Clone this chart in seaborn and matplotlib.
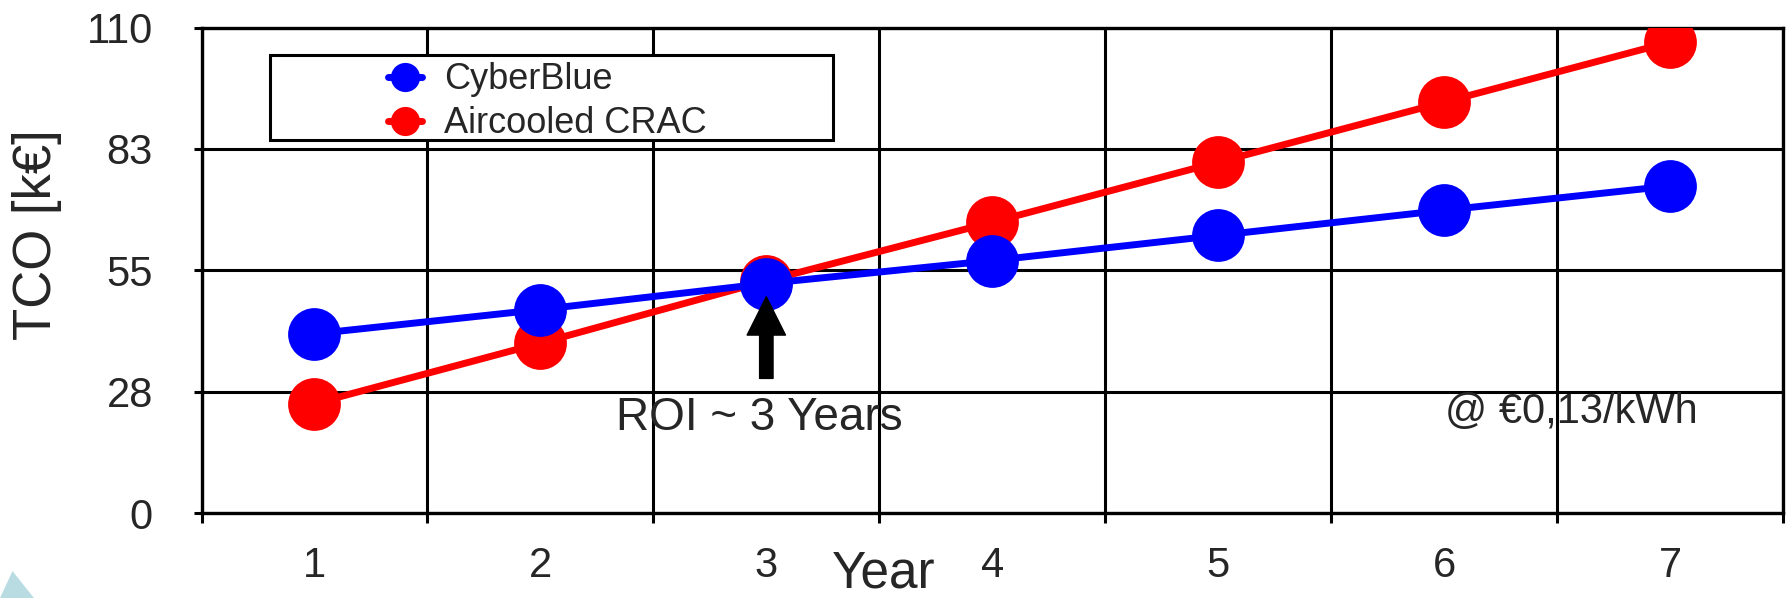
import numpy as np
import pandas as pd
import matplotlib
matplotlib.use("Agg")
import matplotlib.pyplot as plt
from matplotlib.patches import Rectangle, Polygon
from matplotlib.lines import Line2D
import seaborn as sns

# Data
years = [1, 2, 3, 4, 5, 6, 7]
cyberblue = [40.6, 46.1, 52.0, 57.2, 62.9, 68.6, 74.1]
aircooled = [24.8, 38.5, 52.6, 65.9, 79.5, 93.1, 106.7]
series_names = ["CyberBlue", "Aircooled CRAC"]
ytick_values = [0, 27.5, 55, 82.5, 110]
ytick_labels = ["0", "28", "55", "83", "110"]

df_blue = pd.DataFrame({"year": years, "tco": cyberblue})
df_red = pd.DataFrame({"year": years, "tco": aircooled})

sns.set_style("white")
plt.rcParams["font.family"] = ["Liberation Sans", "DejaVu Sans"]

fig = plt.figure(figsize=(17.88, 5.98), dpi=100)
ax = fig.add_axes([0.1127, 0.1421, 0.8845, 0.8119])

# Lines (red first so blue sits on top)
sns.lineplot(data=df_red, x="year", y="tco", ax=ax, color="#FF0000", linewidth=5,
             marker="o", markersize=38, markeredgewidth=0, zorder=3)
sns.lineplot(data=df_blue, x="year", y="tco", ax=ax, color="#0000FF", linewidth=5,
             marker="o", markersize=38, markeredgewidth=0, zorder=4)

# Axes / grid
ax.set_xlim(0.5, 7.5)
ax.set_ylim(0, 110)
ax.set_xticks(np.arange(0.5, 8.0, 1.0))
ax.set_xticklabels([""] * 8)
ax.set_xticks(years, labels=[str(y) for y in years], minor=True)
ax.set_yticks(ytick_values, labels=ytick_labels)
ax.tick_params(axis="x", which="minor", length=0, pad=24, labelsize=30)
ax.tick_params(axis="x", which="major", length=7, width=2.2, color="black", direction="out", bottom=True)
ax.tick_params(axis="y", which="major", length=6, width=2.2, color="black", direction="out",
               left=True, pad=29, labelsize=30)
ax.grid(True, which="major", color="black", linewidth=2.2)
ax.grid(False, which="minor")
for s in ax.spines.values():
    s.set_color("black")
    s.set_linewidth(2.4)
ax.set_xlabel("")
ax.set_ylabel("")

# Legend box and entries
ax.add_patch(Rectangle((0.0433, 0.7683), 0.356, 0.1761, transform=ax.transAxes,
                       fill=True, facecolor="white", edgecolor="black", linewidth=2.2, zorder=5))
handles = [
    Line2D([], [], color="#0000FF", linewidth=5, marker="o", markersize=21, markeredgewidth=0),
    Line2D([], [], color="#FF0000", linewidth=5, marker="o", markersize=21, markeredgewidth=0),
]
leg = ax.legend(handles, series_names, loc="center left", bbox_to_anchor=(0.1179, 0.8467),
                frameon=False, fontsize=26, handlelength=0.95, handletextpad=0.6,
                labelspacing=0.25, borderpad=0, borderaxespad=0)
leg.set_zorder(6)

# Annotations
ax.annotate("", xy=(3, 49.0), xytext=(3, 30.5),
            arrowprops=dict(arrowstyle="simple,head_length=1.0,head_width=1.0,tail_width=0.35",
                            mutation_scale=27.6, color="black", shrinkA=0, shrinkB=0),
            zorder=7)
ax.text(2.333, 18.8, "ROI ~ 3 Years", fontsize=33, ha="left", va="baseline", zorder=7)
ax.text(6.002, 20.4, "@ \u20ac0,13/kWh", fontsize=30, ha="left", va="baseline", zorder=7)

fig.text(0.465, 0.0, "Year", fontsize=37, ha="left", va="bottom")
fig.text(0.0207, 0.6077, "TCO [k\u20ac]", fontsize=38, rotation=90, ha="center", va="center")

# faint logo fragment in the corner
fig.patches.append(Polygon([[0.0, 0.0], [0.007, 0.045], [0.019, 0.0]], closed=True,
                           transform=fig.transFigure, facecolor="#a8d4dc", edgecolor="none",
                           alpha=0.8))

fig.savefig("out.png", dpi=100)
